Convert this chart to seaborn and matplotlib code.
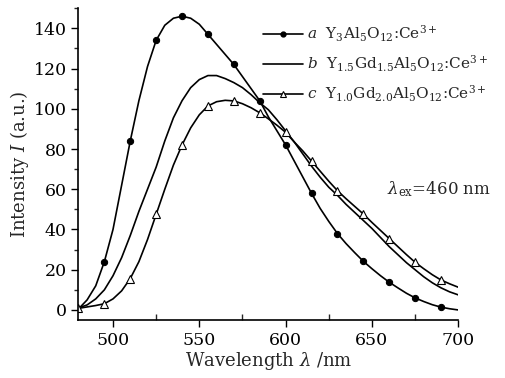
import numpy as np
import pandas as pd
import seaborn as sns
import matplotlib.pyplot as plt
from matplotlib.ticker import MultipleLocator
from matplotlib.lines import Line2D

sns.set_style('ticks')
plt.rcParams['font.family'] = ['DejaVu Serif']
plt.rcParams['mathtext.fontset'] = 'dejavuserif'

# 파장 (nm), 5 nm 간격
wavelength = list(range(480, 701, 5))

# a : Y3Al5O12:Ce3+
intensity_a = [0.5, 5, 12, 24, 40, 62, 84, 104, 121, 134,
               141.5, 145, 146, 145, 142, 137, 132, 127, 122, 116,
               110, 104, 96, 89, 82, 74, 66, 58, 50.5, 44,
               38, 33, 28.5, 24.2, 20.5, 17, 13.8, 11, 8.3, 6,
               4.2, 2.6, 1.4, 0.6, 0]

# b : Y1.5Gd1.5Al5O12:Ce3+
intensity_b = [1, 2.5, 5.5, 10, 17, 26, 37, 49, 60, 71,
               84, 95.5, 104, 110.5, 114.5, 116.5, 116.5, 115, 113, 110.5,
               107, 103, 99.5, 94.5, 89, 83.5, 77.5, 71.5, 66, 61,
               57, 52.5, 48.5, 44.5, 40.5, 36, 31.5, 27.5, 23.5, 20,
               16.5, 13.5, 11, 9, 7.5]

# c : Y1.0Gd2.0Al5O12:Ce3+
intensity_c = [0.8, 1.5, 2.2, 3.1, 5.5, 9.5, 15.6, 24, 35, 47.5,
               60, 72, 82, 90.5, 97, 101.4, 103.5, 104.2, 103.9, 102.5,
               100.5, 98, 95, 91.8, 88.3, 83.5, 79, 74, 69, 64,
               59.3, 55.3, 51.5, 47.7, 43.5, 39.5, 35.5, 31.5, 27.5, 23.7,
               20.5, 17.5, 14.9, 13, 11.3]

labels = ['a', 'b', 'c']
formulas = [r'Y$_3$Al$_5$O$_{12}$:Ce$^{3+}$',
            r'Y$_{1.5}$Gd$_{1.5}$Al$_5$O$_{12}$:Ce$^{3+}$',
            r'Y$_{1.0}$Gd$_{2.0}$Al$_5$O$_{12}$:Ce$^{3+}$']

df = pd.DataFrame({'wavelength': wavelength,
                   'a': intensity_a, 'b': intensity_b, 'c': intensity_c})

fig = plt.figure(figsize=(5.05, 3.78), dpi=100)
ax = fig.add_axes([0.1554, 0.1534, 0.752, 0.825])

sns.lineplot(data=df, x='wavelength', y='a', ax=ax, color='black', lw=1.2,
             marker='o', ms=4.5, mfc='black', mec='black',
             markevery=slice(3, None, 3))
sns.lineplot(data=df, x='wavelength', y='b', ax=ax, color='black', lw=1.2)
sns.lineplot(data=df, x='wavelength', y='c', ax=ax, color='black', lw=1.2,
             marker='^', ms=6, mfc='white', mec='black', mew=0.8,
             markevery=3)

ax.set_xlim(480, 700)
ax.set_ylim(-5, 150)
sns.despine(ax=ax)

ax.xaxis.set_major_locator(MultipleLocator(50))
ax.xaxis.set_minor_locator(MultipleLocator(25))
ax.yaxis.set_major_locator(MultipleLocator(20))
ax.yaxis.set_minor_locator(MultipleLocator(10))
ax.tick_params(axis='both', which='major', direction='out', length=5,
               width=1, labelsize=12.5, colors='black')
ax.tick_params(axis='x', which='minor', direction='in', length=4, width=1)
ax.tick_params(axis='y', which='minor', direction='out', length=3, width=1)
for s in ['left', 'bottom']:
    ax.spines[s].set_linewidth(1.2)
    ax.spines[s].set_color('black')

ax.set_xlabel(r'Wavelength $\lambda$ /nm', fontsize=13, labelpad=1)
ax.set_ylabel(r'Intensity $I$ (a.u.)', fontsize=13, labelpad=2)

# 범례
handles = [Line2D([], [], color='black', lw=1.2, marker='o', ms=3.5),
           Line2D([], [], color='black', lw=1.2),
           Line2D([], [], color='black', lw=1.2, marker='^', ms=5,
                  mfc='white', mew=0.8)]
leg_labels = [f'${l}$  ' + f for l, f in zip(labels, formulas)]
fig.legend(handles, leg_labels, loc='upper left',
           bbox_to_anchor=(263 / 505, 1 - 24 / 378),
           frameon=False, fontsize=11, handlelength=2.6, handletextpad=0.3,
           labelspacing=0.62, borderaxespad=0, borderpad=0)

ax.text(659, 60, r'$\lambda_{\rm ex}$=460 nm', fontsize=12, va='center')

plt.savefig('out.png', dpi=100)
